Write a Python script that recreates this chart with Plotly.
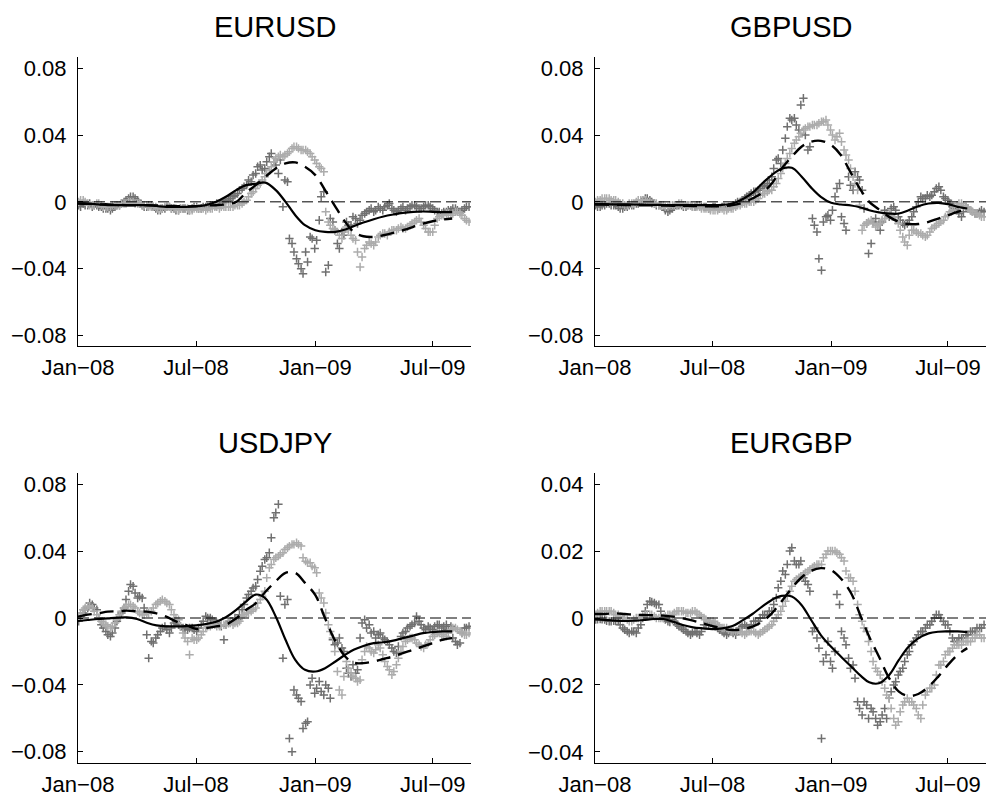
import pandas as pd
import plotly.graph_objects as go

# ---------------------------------------------------------------- data
pairs = ["EURUSD", "GBPUSD", "USDJPY", "EURGBP"]

# twice-weekly observation dates for the scatter series
wk_dates = pd.date_range("2008-01-02", periods=87, freq="7D")
mid_dates = pd.date_range("2008-01-05", periods=86, freq="7D")

# semi-monthly knots for the fitted curves
line_dates = [f"{y}-{m:02d}-{d:02d}"
              for y, months in ((2008, range(1, 13)), (2009, range(1, 8)))
              for m in months for d in (1, 16)] + ["2009-07-31"]

x_tickvals = ["2008-01-01", "2008-07-01", "2009-01-01", "2009-07-01"]
x_ticktext = ["Jan\u221208", "Jul\u221208", "Jan\u221209", "Jul\u221209"]
x_range = ["2008-01-01", "2009-08-29"]

y_tickvals_wide = [-0.08, -0.04, 0, 0.04, 0.08]
y_ticktext_wide = ["\u22120.08", "\u22120.04", "0", "0.04", "0.08"]
y_tickvals_narrow = [-0.04, -0.02, 0, 0.02, 0.04]
y_ticktext_narrow = ["\u22120.04", "\u22120.02", "0", "0.02", "0.04"]

# ---- EURUSD
eurusd_dark = [
    -0.002, -0.001, -0.002, -0.003, -0.002, -0.003, -0.004, -0.005, -0.003, -0.002,
    0.000, 0.002, 0.003, 0.001, -0.002, -0.003, -0.002, -0.004, -0.005, -0.004,
    -0.003, -0.004, -0.005, -0.004, -0.005, -0.004, -0.003, -0.004, -0.003, -0.002,
    -0.002, -0.001, 0.000, 0.001, 0.003, 0.005, 0.008, 0.010, 0.012, 0.017,
    0.022, 0.020, 0.027, 0.024, 0.017, -0.003, 0.012, -0.025, -0.034, -0.040,
    -0.030, -0.021, -0.028, -0.011, 0.006, -0.038, -0.012, -0.025, -0.018, -0.012,
    -0.014, -0.010, -0.011, -0.007, -0.005, -0.006, -0.003, -0.005, -0.002, -0.004,
    -0.006, -0.004, -0.005, -0.003, -0.002, -0.004, -0.003, -0.002, -0.004, -0.006,
    -0.007, -0.006, -0.005, -0.004, -0.006, -0.004, -0.003]
eurusd_dark_mid = [
    -0.003, -0.002, -0.001, -0.002, -0.003, -0.004, -0.004, -0.004, -0.002, -0.001,
    0.001, 0.003, 0.002, -0.001, -0.003, -0.002, -0.003, -0.005, -0.004, -0.003,
    -0.004, -0.005, -0.004, -0.004, -0.005, -0.003, -0.004, -0.003, -0.003, -0.002,
    -0.001, -0.001, 0.001, 0.002, 0.004, 0.007, 0.009, 0.013, 0.016, 0.021,
    0.019, 0.024, 0.029, 0.022, 0.025, 0.013, -0.022, -0.030, -0.037, -0.043,
    -0.036, -0.022, -0.023, 0.003, -0.042, -0.010, -0.017, -0.028, -0.020, -0.014,
    -0.009, -0.013, -0.008, -0.006, -0.004, -0.005, -0.004, -0.003, -0.001, -0.005,
    -0.005, -0.003, -0.004, -0.002, -0.003, -0.004, -0.002, -0.003, -0.005, -0.006,
    -0.006, -0.005, -0.004, -0.005, -0.005, -0.003]
eurusd_light = [
    0.000, 0.001, -0.001, -0.002, -0.001, -0.002, -0.003, -0.003, -0.002, -0.002,
    -0.001, 0.000, 0.000, -0.001, -0.002, -0.002, -0.003, -0.003, -0.004, -0.003,
    -0.003, -0.004, -0.005, -0.004, -0.004, -0.005, -0.004, -0.004, -0.005, -0.004,
    -0.003, -0.004, -0.003, -0.003, -0.003, -0.002, -0.001, 0.001, 0.005, 0.008,
    0.011, 0.015, 0.019, 0.024, 0.027, 0.027, 0.029, 0.032, 0.033, 0.031,
    0.031, 0.029, 0.025, 0.021, 0.018, -0.012, -0.016, -0.018, -0.022, -0.015,
    -0.020, -0.023, -0.039, -0.028, -0.024, -0.026, -0.021, -0.019, -0.020, -0.017,
    -0.017, -0.015, -0.016, -0.014, -0.012, -0.010, -0.014, -0.018, -0.018, -0.010,
    -0.008, -0.007, -0.008, -0.006, -0.007, -0.010, -0.012]
eurusd_light_mid = [
    0.001, 0.000, -0.002, -0.002, -0.001, -0.003, -0.003, -0.002, -0.002, -0.001,
    -0.001, 0.000, -0.001, -0.001, -0.002, -0.003, -0.003, -0.004, -0.004, -0.003,
    -0.004, -0.004, -0.004, -0.004, -0.005, -0.004, -0.004, -0.004, -0.004, -0.004,
    -0.003, -0.003, -0.003, -0.003, -0.002, -0.002, 0.000, 0.003, 0.006, 0.010,
    0.013, 0.017, 0.021, 0.026, 0.028, 0.028, 0.030, 0.033, 0.032, 0.031,
    0.030, 0.027, 0.023, 0.020, -0.006, -0.014, -0.017, -0.020, -0.018, -0.017,
    -0.022, -0.030, -0.033, -0.026, -0.025, -0.024, -0.020, -0.019, -0.018, -0.017,
    -0.016, -0.016, -0.015, -0.013, -0.011, -0.012, -0.016, -0.018, -0.014, -0.009,
    -0.008, -0.007, -0.007, -0.006, -0.008, -0.011]
eurusd_solid = [
    -0.001, -0.001, -0.0015, -0.002, -0.002, -0.002, -0.002, -0.002, -0.0025, -0.003,
    -0.003, -0.003, -0.0026, -0.002, 0.000, 0.003, 0.007, 0.010, 0.0108, 0.0115,
    0.007, 0.000, -0.008, -0.014, -0.017, -0.018, -0.018, -0.0166, -0.0146, -0.0124,
    -0.0104, -0.0088, -0.0076, -0.0066, -0.006, -0.0058, -0.006, -0.0062, -0.0062]
eurusd_dashed = [
    -0.001, -0.0012, -0.0015, -0.0015, -0.0018, -0.002, -0.002, -0.002, -0.0022, -0.0024,
    -0.0026, -0.0027, -0.0026, -0.0022, -0.002, -0.0015, 0.000, 0.0055, 0.010, 0.015,
    0.020, 0.023, 0.0236, 0.021, 0.016, 0.007, -0.003, -0.012, -0.018, -0.0206,
    -0.021, -0.020, -0.0186, -0.017, -0.015, -0.013, -0.0116, -0.0106, -0.010]

# ---- GBPUSD
gbpusd_dark = [
    -0.002, -0.003, -0.002, -0.001, -0.002, -0.003, -0.004, -0.003, -0.002, -0.001,
    0.000, 0.002, 0.001, -0.001, -0.002, -0.003, -0.006, -0.004, -0.002, -0.002,
    -0.003, -0.002, -0.003, -0.002, -0.003, -0.004, -0.003, -0.004, -0.003, -0.004,
    -0.003, -0.001, 0.000, 0.002, 0.004, 0.006, 0.007, 0.009, 0.011, 0.015,
    0.025, 0.023, 0.038, 0.050, 0.050, 0.043, 0.062, 0.031, -0.010, -0.018,
    -0.041, -0.009, -0.011, 0.003, 0.011, -0.013, 0.015, 0.007, 0.015, 0.007,
    -0.013, -0.025, -0.010, -0.017, -0.005, -0.009, -0.003, -0.009, -0.013, -0.013,
    -0.009, -0.003, 0.003, 0.002, 0.003, 0.006, 0.009, 0.003, 0.001, -0.003,
    -0.005, -0.009, -0.003, -0.005, -0.007, -0.006, -0.006]
gbpusd_dark_mid = [
    -0.003, -0.002, -0.001, -0.002, -0.002, -0.004, -0.003, -0.002, -0.002, -0.001,
    0.001, 0.002, 0.000, -0.002, -0.002, -0.005, -0.005, -0.003, -0.002, -0.003,
    -0.002, -0.003, -0.002, -0.003, -0.003, -0.004, -0.003, -0.004, -0.003, -0.003,
    -0.002, 0.000, 0.001, 0.003, 0.005, 0.006, 0.008, 0.010, 0.013, 0.020,
    0.026, 0.031, 0.045, 0.049, 0.046, 0.058, 0.040, 0.033, -0.014, -0.034,
    -0.012, -0.008, -0.005, 0.008, -0.009, -0.017, 0.010, 0.018, 0.013, -0.004,
    -0.031, -0.012, -0.014, -0.012, -0.007, -0.004, -0.005, -0.011, -0.014, -0.011,
    -0.006, 0.000, 0.002, 0.004, 0.004, 0.008, 0.007, 0.002, -0.001, -0.004,
    -0.007, -0.006, -0.004, -0.006, -0.007, -0.005]
gbpusd_light = [
    0.000, 0.001, 0.002, 0.002, 0.001, 0.000, -0.001, -0.002, -0.001, 0.000,
    0.001, 0.001, 0.000, -0.001, -0.002, -0.002, -0.003, -0.002, -0.002, -0.001,
    -0.002, -0.002, -0.003, -0.003, -0.004, -0.004, -0.005, -0.005, -0.004, -0.005,
    -0.004, -0.003, -0.002, -0.001, 0.000, 0.000, 0.002, 0.005, 0.006, 0.007,
    0.011, 0.017, 0.023, 0.029, 0.035, 0.039, 0.043, 0.045, 0.046, 0.046,
    0.048, 0.049, 0.043, 0.037, 0.041, 0.031, 0.025, 0.015, 0.007, -0.017,
    -0.013, -0.011, -0.015, -0.013, -0.010, -0.007, -0.009, -0.013, -0.021, -0.026,
    -0.017, -0.018, -0.019, -0.021, -0.018, -0.015, -0.013, -0.011, -0.008, -0.005,
    -0.002, -0.001, -0.003, -0.005, -0.007, -0.008, -0.009]
gbpusd_light_mid = [
    0.001, 0.002, 0.002, 0.001, 0.001, -0.001, -0.002, -0.001, -0.001, 0.001,
    0.001, 0.000, -0.001, -0.001, -0.002, -0.003, -0.002, -0.002, -0.001, -0.002,
    -0.002, -0.003, -0.003, -0.004, -0.004, -0.005, -0.005, -0.004, -0.005, -0.004,
    -0.004, -0.002, -0.001, -0.001, 0.000, 0.001, 0.004, 0.005, 0.007, 0.009,
    0.014, 0.020, 0.026, 0.032, 0.037, 0.041, 0.044, 0.045, 0.046, 0.047,
    0.048, 0.046, 0.040, 0.039, 0.036, 0.028, 0.020, 0.011, -0.002, -0.014,
    -0.012, -0.013, -0.014, -0.011, -0.008, -0.008, -0.011, -0.017, -0.024, -0.020,
    -0.017, -0.019, -0.020, -0.020, -0.016, -0.014, -0.012, -0.009, -0.006, -0.003,
    -0.001, -0.002, -0.004, -0.006, -0.007, -0.009]
gbpusd_solid = [
    -0.0014, -0.0014, -0.0015, -0.0015, -0.0016, -0.0017, -0.0018, -0.0019, -0.002, -0.002,
    -0.002, -0.002, -0.002, -0.0018, -0.001, 0.0014, 0.0053, 0.011, 0.016, 0.0198,
    0.0204, 0.0152, 0.0085, 0.003, -0.0006, -0.0016, -0.0022, -0.0034, -0.005, -0.0063,
    -0.007, -0.007, -0.005, -0.0026, -0.001, -0.0006, -0.0014, -0.003, -0.004]
gbpusd_dashed = [
    -0.0016, -0.0017, -0.0018, -0.0019, -0.002, -0.002, -0.0021, -0.0022, -0.0023, -0.0024,
    -0.0025, -0.0026, -0.0026, -0.0026, -0.002, -0.0006, 0.002, 0.0053, 0.011, 0.0198,
    0.027, 0.033, 0.036, 0.0365, 0.034, 0.028, 0.017, 0.007, 0.000, -0.0045,
    -0.009, -0.012, -0.0133, -0.0133, -0.012, -0.010, -0.008, -0.006, -0.0046]

# ---- USDJPY
usdjpy_dark = [
    -0.002, 0.003, 0.006, 0.008, 0.005, -0.004, -0.008, -0.011, -0.006, 0.000,
    0.006, 0.016, 0.019, 0.012, 0.012, -0.010, -0.014, -0.012, -0.008, -0.005,
    -0.009, -0.003, -0.004, -0.006, -0.007, -0.006, -0.008, -0.004, 0.001, 0.000,
    -0.002, -0.004, -0.013, -0.003, -0.002, -0.001, 0.005, 0.012, 0.016, 0.019,
    0.028, 0.035, 0.039, 0.060, 0.068, -0.024, 0.011, -0.080, -0.046, -0.050,
    -0.063, -0.040, -0.045, -0.038, -0.046, -0.042, -0.013, -0.015, -0.018, -0.030,
    -0.035, -0.033, -0.012, -0.001, -0.004, -0.008, -0.010, -0.012, -0.014, -0.018,
    -0.021, -0.011, -0.008, -0.005, -0.003, -0.002, -0.006, -0.005, -0.007, -0.004,
    -0.006, -0.004, -0.005, -0.014, -0.015, -0.006, -0.005]
usdjpy_dark_mid = [
    0.001, 0.005, 0.009, 0.006, 0.000, -0.006, -0.010, -0.009, -0.002, 0.003,
    0.011, 0.020, 0.015, 0.013, 0.006, -0.024, -0.015, -0.010, -0.006, -0.007,
    -0.006, -0.002, -0.005, -0.007, -0.006, -0.007, -0.006, -0.002, 0.000, -0.001,
    -0.003, -0.005, -0.004, -0.002, 0.000, 0.002, 0.008, 0.014, 0.018, 0.023,
    0.031, 0.036, 0.048, 0.063, 0.013, 0.008, -0.072, -0.043, -0.048, -0.066,
    -0.062, -0.036, -0.042, -0.044, -0.040, -0.048, -0.016, -0.012, -0.020, -0.033,
    -0.028, -0.031, -0.003, -0.006, -0.009, -0.012, -0.009, -0.013, -0.016, -0.020,
    -0.017, -0.009, -0.006, -0.004, 0.001, -0.004, -0.007, -0.006, -0.005, -0.004,
    -0.005, -0.007, -0.012, -0.016, -0.009, -0.006]
usdjpy_light = [
    0.001, 0.005, 0.007, 0.006, 0.002, -0.002, -0.004, -0.006, -0.003, 0.002,
    0.006, 0.008, 0.007, 0.004, 0.002, 0.003, 0.004, 0.008, 0.010, 0.010,
    0.008, 0.002, -0.001, -0.009, -0.014, -0.012, -0.013, -0.010, -0.006, -0.005,
    -0.004, -0.005, -0.004, -0.003, -0.004, -0.003, 0.001, 0.003, 0.004, 0.006,
    0.011, 0.016, 0.030, 0.035, 0.037, 0.039, 0.042, 0.044, 0.045, 0.043,
    0.034, 0.033, 0.030, 0.015, 0.009, -0.004, -0.012, -0.032, -0.046, -0.026,
    -0.033, -0.036, -0.037, -0.020, -0.018, -0.021, -0.016, -0.022, -0.029, -0.034,
    -0.028, -0.020, -0.014, -0.012, -0.013, -0.016, -0.018, -0.015, -0.011, -0.009,
    -0.010, -0.011, -0.007, -0.006, -0.008, -0.010, -0.009]
usdjpy_light_mid = [
    0.003, 0.006, 0.007, 0.004, 0.000, -0.003, -0.005, -0.005, -0.001, 0.004,
    0.007, 0.008, 0.006, 0.003, 0.002, 0.003, 0.006, 0.009, 0.011, 0.009,
    0.005, 0.000, -0.005, -0.012, -0.022, -0.013, -0.012, -0.008, -0.005, -0.004,
    -0.005, -0.004, -0.004, -0.003, -0.003, -0.002, 0.002, 0.003, 0.005, 0.009,
    0.013, 0.024, 0.032, 0.036, 0.038, 0.041, 0.043, 0.044, 0.044, 0.036,
    0.033, 0.031, 0.027, 0.012, 0.003, -0.008, -0.020, -0.043, -0.035, -0.030,
    -0.035, -0.038, -0.025, -0.017, -0.020, -0.019, -0.018, -0.026, -0.031, -0.032,
    -0.024, -0.017, -0.013, -0.012, -0.015, -0.017, -0.016, -0.013, -0.010, -0.009,
    -0.011, -0.009, -0.006, -0.007, -0.009, -0.010]
usdjpy_solid = [
    -0.0018, -0.0012, -0.0006, -0.0002, 0.0002, 0.0004, -0.0006, -0.0028, -0.0044, -0.005,
    -0.005, -0.0048, -0.0044, -0.0036, -0.0022, 0.0004, 0.0048, 0.0098, 0.0140, 0.0117,
    0.0008, -0.013, -0.025, -0.031, -0.032, -0.030, -0.026, -0.022, -0.019, -0.0167,
    -0.015, -0.0145, -0.0135, -0.012, -0.0105, -0.009, -0.0084, -0.008, -0.008]
usdjpy_dashed = [
    0.0008, 0.002, 0.0028, 0.0038, 0.004, 0.0044, 0.004, 0.0038, 0.0028, 0.0008,
    -0.0022, -0.0042, -0.0065, -0.006, -0.005, -0.004, -0.0002, 0.0048, 0.0088, 0.0157,
    0.022, 0.027, 0.027, 0.021, 0.0137, -0.0002, -0.014, -0.023, -0.0267, -0.027,
    -0.026, -0.0245, -0.023, -0.021, -0.019, -0.017, -0.015, -0.013, -0.012]

# ---- EURGBP
eurgbp_dark = [
    -0.0005, -0.0003, -0.0005, -0.001, -0.0008, -0.001, -0.003, -0.004, -0.004, -0.0045,
    -0.002, 0.002, 0.005, 0.0045, 0.004, 0.000, -0.001, -0.0005, -0.002, -0.003,
    -0.004, -0.005, -0.004, -0.005, -0.002, -0.002, -0.002, -0.003, -0.004, -0.005,
    -0.004, -0.005, -0.003, -0.002, -0.003, -0.001, -0.001, 0.001, 0.001, 0.002,
    0.006, 0.011, 0.013, 0.020, 0.017, 0.016, 0.012, 0.010, -0.004, -0.006,
    -0.036, -0.011, -0.013, -0.010, 0.004, -0.006, -0.012, -0.014, -0.025, -0.029,
    -0.026, -0.027, -0.030, -0.031, -0.027, -0.024, -0.020, -0.017, -0.015, -0.011,
    -0.008, -0.006, -0.004, -0.003, -0.002, 0.000, 0.001, -0.001, -0.002, -0.006,
    -0.007, -0.006, -0.005, -0.004, -0.004, -0.003, -0.002]
eurgbp_dark_mid = [
    -0.0004, -0.0004, -0.0008, -0.001, -0.0009, -0.002, -0.0035, -0.0045, -0.004, -0.003,
    0.000, 0.004, 0.0048, 0.004, 0.002, -0.0005, -0.0012, -0.001, -0.0025, -0.0035,
    -0.0045, -0.0045, -0.0045, -0.004, -0.002, -0.0015, -0.0025, -0.0035, -0.0045, -0.0045,
    -0.0045, -0.004, -0.0025, -0.0025, -0.002, -0.001, 0.000, 0.001, 0.002, 0.004,
    0.009, 0.014, 0.016, 0.021, 0.016, 0.017, 0.011, 0.008, -0.003, -0.009,
    -0.013, -0.007, -0.015, 0.007, -0.004, -0.008, -0.015, -0.018, -0.027, -0.025,
    -0.030, -0.028, -0.032, -0.029, -0.030, -0.022, -0.019, -0.016, -0.013, -0.010,
    -0.007, -0.005, -0.004, -0.002, -0.001, 0.001, 0.000, -0.002, -0.004, -0.007,
    -0.006, -0.006, -0.005, -0.004, -0.003, -0.003]
eurgbp_light = [
    0.001, 0.002, 0.002, 0.002, 0.0015, 0.001, 0.000, -0.0005, -0.001, 0.000,
    0.000, 0.001, 0.001, 0.0005, 0.000, 0.000, 0.001, 0.001, 0.002, 0.002,
    0.0015, 0.0015, 0.002, 0.001, 0.000, -0.001, -0.001, -0.002, -0.003, -0.003,
    -0.004, -0.004, -0.004, -0.005, -0.004, -0.004, -0.005, -0.004, -0.003, -0.002,
    0.000, 0.002, 0.005, 0.008, 0.011, 0.012, 0.013, 0.014, 0.015, 0.016,
    0.016, 0.019, 0.020, 0.020, 0.019, 0.017, 0.012, 0.011, 0.004, -0.001,
    -0.004, -0.010, -0.015, -0.017, -0.021, -0.024, -0.030, -0.031, -0.026, -0.024,
    -0.025, -0.027, -0.030, -0.023, -0.021, -0.020, -0.014, -0.013, -0.010, -0.009,
    -0.008, -0.008, -0.007, -0.007, -0.006, -0.005, -0.006]
eurgbp_light_mid = [
    0.0015, 0.002, 0.002, 0.002, 0.001, 0.0005, 0.000, -0.001, -0.0005, 0.000,
    0.0005, 0.001, 0.001, 0.000, 0.000, 0.0005, 0.001, 0.0015, 0.002, 0.002,
    0.0015, 0.002, 0.0015, 0.0005, -0.0005, -0.001, -0.0015, -0.0025, -0.003, -0.0035,
    -0.004, -0.004, -0.0045, -0.0045, -0.004, -0.0045, -0.0045, -0.0035, -0.0025, -0.001,
    0.001, 0.0035, 0.0065, 0.0095, 0.0115, 0.0125, 0.0135, 0.0145, 0.0155, 0.016,
    0.018, 0.020, 0.020, 0.0195, 0.018, 0.014, 0.012, 0.008, 0.001, -0.003,
    -0.007, -0.013, -0.016, -0.019, -0.023, -0.027, -0.032, -0.028, -0.025, -0.025,
    -0.026, -0.029, -0.026, -0.022, -0.021, -0.017, -0.014, -0.011, -0.010, -0.008,
    -0.008, -0.007, -0.007, -0.006, -0.005, -0.006]
eurgbp_solid = [
    -0.0004, -0.0006, -0.0008, -0.0009, -0.0008, -0.0006, -0.0003, -0.0003, -0.0011, -0.0021,
    -0.0028, -0.0031, -0.0033, -0.0031, -0.0024, -0.0008, 0.0012, 0.0034, 0.0054, 0.0066,
    0.0064, 0.0039, -0.0006, -0.0051, -0.0086, -0.0115, -0.0145, -0.0173, -0.0192, -0.0195,
    -0.017, -0.0125, -0.0086, -0.0061, -0.0046, -0.0041, -0.004, -0.004, -0.0042]
eurgbp_dashed = [
    0.0012, 0.0012, 0.0014, 0.0012, 0.001, 0.0009, 0.0008, 0.0007, 0.0004, -0.0001,
    -0.0008, -0.0016, -0.0024, -0.0031, -0.0036, -0.0034, -0.0026, -0.0011, 0.0014, 0.0049,
    0.0089, 0.0121, 0.0141, 0.0149, 0.0143, 0.0118, 0.0074, 0.0004, -0.0056, -0.0115,
    -0.018, -0.022, -0.0233, -0.0227, -0.0205, -0.0175, -0.014, -0.011, -0.009]

series = {
    "EURUSD": (eurusd_dark, eurusd_dark_mid, eurusd_light, eurusd_light_mid,
               eurusd_solid, eurusd_dashed),
    "GBPUSD": (gbpusd_dark, gbpusd_dark_mid, gbpusd_light, gbpusd_light_mid,
               gbpusd_solid, gbpusd_dashed),
    "USDJPY": (usdjpy_dark, usdjpy_dark_mid, usdjpy_light, usdjpy_light_mid,
               usdjpy_solid, usdjpy_dashed),
    "EURGBP": (eurgbp_dark, eurgbp_dark_mid, eurgbp_light, eurgbp_light_mid,
               eurgbp_solid, eurgbp_dashed),
}

# ---------------------------------------------------------------- layout
W, H = 986, 796
# plot-area boxes in pixels: left, right, top, bottom
boxes = [(78, 471, 57, 346), (595, 986, 57, 346),
         (78, 471, 473, 763), (595, 986, 473, 763)]
y_ranges = [(-0.0863, 0.0867), (-0.0863, 0.0867),
            (-0.0867, 0.0867), (-0.0433, 0.0433)]
title_mid_px = [27, 27, 443, 443]

DARK = "#707070"
LIGHT = "#acacac"
FONT = "Liberation Sans, Arial, Helvetica, sans-serif"
pt_x = list(wk_dates) + list(mid_dates)

fig = go.Figure()
layout = dict(
    width=W, height=H, margin=dict(l=0, r=0, t=0, b=0, autoexpand=False),
    paper_bgcolor="white", plot_bgcolor="white",
    showlegend=False, font=dict(family=FONT, color="black"),
    annotations=[], shapes=[],
)

for i, name in enumerate(pairs):
    n = "" if i == 0 else str(i + 1)
    xa, ya = "x" + n, "y" + n
    l, r, t, b = boxes[i]
    dark, dark_mid, light, light_mid, solid, dashed = series[name]

    for vals, col in ((dark + dark_mid, DARK), (light + light_mid, LIGHT)):
        fig.add_trace(go.Scatter(
            x=pt_x, y=vals, xaxis=xa, yaxis=ya, mode="markers",
            marker=dict(symbol="cross-thin", size=6,
                        line=dict(width=1.5, color=col))))
    fig.add_trace(go.Scatter(
        x=line_dates, y=solid, xaxis=xa, yaxis=ya, mode="lines",
        line=dict(color="black", width=2.2, shape="spline", smoothing=1.0)))
    fig.add_trace(go.Scatter(
        x=line_dates, y=dashed, xaxis=xa, yaxis=ya, mode="lines",
        line=dict(color="black", width=2.4, shape="spline", smoothing=1.0,
                  dash="14px,8px")))

    # zero reference line across the whole axis width
    layout["shapes"].append(dict(
        type="line", xref=xa + " domain", yref=ya, x0=0, x1=1, y0=0, y1=0,
        line=dict(color="black", width=1, dash="11px,5px"), layer="above"))

    wide = i < 3
    axis_common = dict(
        showline=True, linecolor="black", linewidth=1, mirror=False,
        ticks="inside", ticklen=5, tickwidth=1, tickcolor="black",
        showgrid=False, zeroline=False, automargin=False,
        tickfont=dict(family=FONT, size=22, color="black"),
    )
    layout["xaxis" + n] = dict(
        axis_common, domain=[l / W, r / W], anchor=ya, type="date",
        range=x_range, tickmode="array", tickvals=x_tickvals,
        ticktext=x_ticktext, ticklabelstandoff=2)
    layout["yaxis" + n] = dict(
        axis_common, domain=[1 - b / H, 1 - t / H], anchor=xa,
        range=list(y_ranges[i]), tickmode="array",
        tickvals=y_tickvals_wide if wide else y_tickvals_narrow,
        ticktext=y_ticktext_wide if wide else y_ticktext_narrow,
        ticklabelstandoff=6)

    layout["annotations"].append(dict(
        text=name, xref="paper", yref="paper",
        x=(l + r) / 2 / W, y=1 - title_mid_px[i] / H,
        xanchor="center", yanchor="middle", showarrow=False,
        font=dict(family=FONT, size=29, color="black")))

fig.update_layout(**layout)
fig.write_html("out.html")
